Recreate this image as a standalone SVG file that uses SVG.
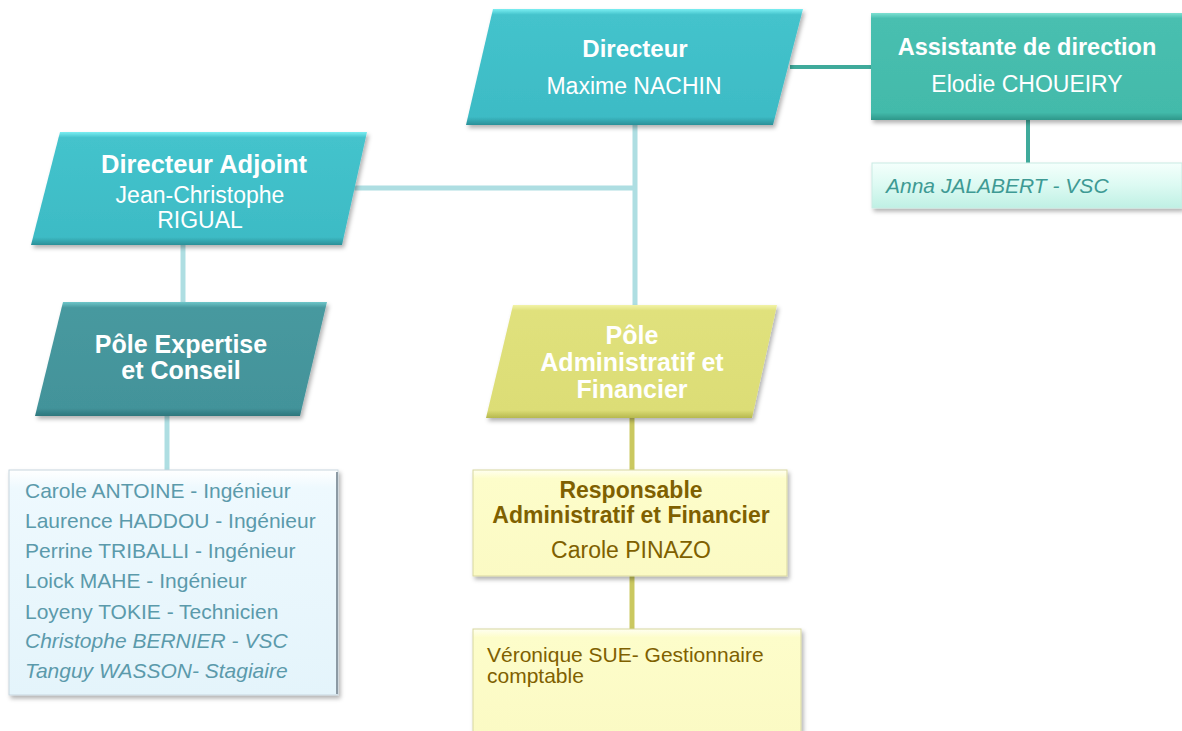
<svg xmlns="http://www.w3.org/2000/svg" width="1182" height="731" viewBox="0 0 1182 731">
<defs>
  <filter id="sh" x="-10%" y="-10%" width="125%" height="130%">
    <feDropShadow dx="2" dy="3" stdDeviation="2" flood-color="#000" flood-opacity="0.3"/>
  </filter>
  <linearGradient id="gCyan" x1="0" y1="0" x2="0" y2="1">
    <stop offset="0" stop-color="#7aeef2"/>
    <stop offset="0.05" stop-color="#44c3cc"/>
    <stop offset="0.93" stop-color="#3dbbc5"/>
    <stop offset="1" stop-color="#2a9098"/>
  </linearGradient>
  <linearGradient id="gTeal" x1="0" y1="0" x2="0" y2="1">
    <stop offset="0" stop-color="#6fc6c9"/>
    <stop offset="0.05" stop-color="#47999f"/>
    <stop offset="0.93" stop-color="#43939a"/>
    <stop offset="1" stop-color="#2c767c"/>
  </linearGradient>
  <linearGradient id="gGreen" x1="0" y1="0" x2="0" y2="1">
    <stop offset="0" stop-color="#7ee0d2"/>
    <stop offset="0.05" stop-color="#48bfb0"/>
    <stop offset="0.93" stop-color="#43baaa"/>
    <stop offset="1" stop-color="#2e978a"/>
  </linearGradient>
  <linearGradient id="gMint" x1="0" y1="0" x2="0" y2="1">
    <stop offset="0" stop-color="#f4fffc"/>
    <stop offset="0.5" stop-color="#dcfaf2"/>
    <stop offset="1" stop-color="#bff0e4"/>
  </linearGradient>
  <linearGradient id="gYellow" x1="0" y1="0" x2="0" y2="1">
    <stop offset="0" stop-color="#f2f3a8"/>
    <stop offset="0.05" stop-color="#e0e17c"/>
    <stop offset="0.93" stop-color="#dcdd76"/>
    <stop offset="1" stop-color="#b6b84e"/>
  </linearGradient>
  <linearGradient id="gCream" x1="0" y1="0" x2="0" y2="1">
    <stop offset="0" stop-color="#fffff0"/>
    <stop offset="0.08" stop-color="#fdfdca"/>
    <stop offset="1" stop-color="#fbfac4"/>
  </linearGradient>
  <linearGradient id="gIce" x1="0" y1="0" x2="0" y2="1">
    <stop offset="0" stop-color="#ffffff"/>
    <stop offset="0.08" stop-color="#eef9fe"/>
    <stop offset="1" stop-color="#e4f4fb"/>
  </linearGradient>
  <style>
    text { font-family: "Liberation Sans", Arial, sans-serif; }
    .w { fill: #ffffff; }
    .b { font-weight: bold; }
    .c { text-anchor: middle; }
    .i { font-style: italic; }
    .list { fill: #5b9aab; font-size: 21px; }
    .gold { fill: #7f6000; }
    .conL { stroke: #aedee2; stroke-width: 5; fill: none; }
    .conT { stroke: #3faa9b; stroke-width: 4; fill: none; }
    .conY { stroke: #cac860; stroke-width: 5; fill: none; }
  </style>
</defs>
<rect width="1182" height="731" fill="#ffffff"/>

<g id="connectors">
  <line class="conT" x1="790" y1="67" x2="872" y2="67"/>
  <line class="conT" x1="1028" y1="120" x2="1028" y2="163"/>
  <line class="conL" x1="635" y1="124" x2="635" y2="306"/>
  <line class="conL" x1="352" y1="188" x2="635" y2="188"/>
  <line class="conL" x1="183" y1="245" x2="183" y2="302"/>
  <line class="conL" x1="167" y1="415" x2="167" y2="471"/>
  <line class="conY" x1="632" y1="418" x2="632" y2="470"/>
  <line class="conY" x1="632" y1="576" x2="632" y2="630"/>
</g>

<g id="directeur">
  <polygon points="493,9 803,9 773,125 466,125" fill="url(#gCyan)" filter="url(#sh)"/>
  <text class="w b c" x="635" y="57" font-size="24">Directeur</text>
  <text class="w c" x="634" y="94" font-size="23">Maxime NACHIN</text>
</g>

<g id="assistante">
  <rect x="871" y="13" width="311" height="107" fill="url(#gGreen)" filter="url(#sh)"/>
  <text class="w b c" x="1027" y="55" font-size="23.5">Assistante de direction</text>
  <text class="w c" x="1027" y="92" font-size="23">Elodie CHOUEIRY</text>
</g>

<g id="anna">
  <rect x="872" y="163" width="310" height="45" fill="url(#gMint)" stroke="#c9ece4" stroke-width="1" filter="url(#sh)"/>
  <text class="i" x="886" y="193" font-size="21" fill="#3e9a94">Anna JALABERT - VSC</text>
</g>

<g id="directeur-adjoint">
  <polygon points="60,132 367,132 342,245 31,245" fill="url(#gCyan)" filter="url(#sh)"/>
  <text class="w b c" x="204" y="173" font-size="25.5">Directeur Adjoint</text>
  <text class="w c" x="200" y="203" font-size="23">Jean-Christophe</text>
  <text class="w c" x="200" y="228" font-size="23">RIGUAL</text>
</g>

<g id="pole-expertise">
  <polygon points="63,302 327,302 300,416 35,416" fill="url(#gTeal)" filter="url(#sh)"/>
  <text class="w b c" x="181" y="353" font-size="25">Pôle Expertise</text>
  <text class="w b c" x="181" y="379" font-size="25">et Conseil</text>
</g>

<g id="expertise-list">
  <rect x="9" y="470" width="329" height="225" fill="url(#gIce)" stroke="#c8d6de" stroke-width="1" filter="url(#sh)"/>
  <line x1="337" y1="472" x2="337" y2="694" stroke="#8c9aa4" stroke-width="2"/>
  <text class="list" x="25" y="498">Carole ANTOINE - Ingénieur</text>
  <text class="list" x="25" y="528">Laurence HADDOU - Ingénieur</text>
  <text class="list" x="25" y="558">Perrine TRIBALLI - Ingénieur</text>
  <text class="list" x="25" y="588">Loick MAHE - Ingénieur</text>
  <text class="list" x="25" y="619">Loyeny TOKIE - Technicien</text>
  <text class="list i" x="25" y="648">Christophe BERNIER - VSC</text>
  <text class="list i" x="25" y="678">Tanguy WASSON- Stagiaire</text>
</g>

<g id="pole-administratif">
  <polygon points="513,305 777,305 752,418 486,418" fill="url(#gYellow)" filter="url(#sh)"/>
  <text class="w b c" x="632" y="344" font-size="25">Pôle</text>
  <text class="w b c" x="632" y="371" font-size="25">Administratif et</text>
  <text class="w b c" x="632" y="398" font-size="25">Financier</text>
</g>

<g id="responsable">
  <rect x="473" y="470" width="314" height="106" fill="url(#gCream)" stroke="#d8d7a0" stroke-width="1" filter="url(#sh)"/>
  <text class="gold b c" x="631" y="498" font-size="23">Responsable</text>
  <text class="gold b c" x="631" y="523" font-size="23">Administratif et Financier</text>
  <text class="gold c" x="631" y="558" font-size="23">Carole PINAZO</text>
</g>

<g id="veronique">
  <rect x="473" y="629" width="328" height="106" fill="url(#gCream)" stroke="#d8d7a0" stroke-width="1" filter="url(#sh)"/>
  <text class="gold" x="487" y="662" font-size="21">Véronique SUE- Gestionnaire</text>
  <text class="gold" x="487" y="683" font-size="21">comptable</text>
</g>
</svg>
